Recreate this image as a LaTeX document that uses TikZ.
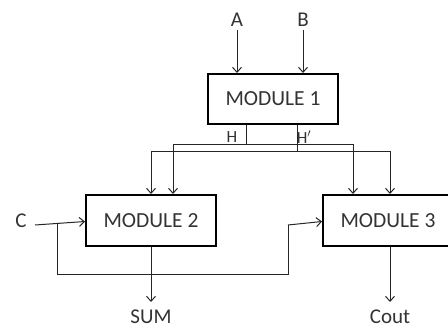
\documentclass[tikz,border=0pt]{standalone}
\usepackage{fontspec}
\setmainfont{Carlito}
\usetikzlibrary{arrows.meta}
\begin{document}
\begin{tikzpicture}[x=1pt,y=-1pt,
  modbox/.style={draw,line width=2pt,minimum width=130pt,minimum height=50pt,inner sep=0pt,font=\fontsize{21.5}{24}\selectfont,text=black!80},
  lbl/.style={font=\fontsize{21}{24}\selectfont,inner sep=0pt,text=black!80},
  smalllbl/.style={font=\fontsize{17}{20}\selectfont,inner sep=0pt,text=black!80},
  wire/.style={line width=1pt,draw=black!85},
  arr/.style={wire,-{Straight Barb[length=5pt,width=9pt,line width=1pt]}}]
\useasboundingbox (0,0) rectangle (448,329);
\clip (0,0) rectangle (448,329);
% modules
\node[modbox] (m1) at (273,99) {MODULE 1};
\node[modbox,minimum height=51pt] (m2) at (151,220.5) {MODULE 2};
\node[modbox,minimum height=51pt] (m3) at (388,220.5) {MODULE 3};
% labels
\node[lbl] (A) at (237,20) {A};
\node[lbl] (B) at (303,20) {B};
\node[lbl] (C) at (21,221) {C};
\node[lbl] (sum) at (151,317) {SUM};
\node[lbl] (cout) at (390,317) {Cout};
\node[smalllbl] (hl) at (232,137) {H};
\node[smalllbl] (hpl) at (304,137) {H$'$};
% inputs A, B
\draw[arr] (237,30) -- (237,0 |- m1.north);
\draw[arr] (303,30) -- (303,0 |- m1.north);
% H and H' taps
\coordinate (h1) at (246,145);
\coordinate (h2) at (297,152);
\draw[wire] (246,0 |- m1.south) -- (h1);
\draw[wire] (297,0 |- m1.south) -- (h2);
\draw[arr] (h1) -| (173,0 |- m2.north);
\draw[arr] (h1) -| (353,0 |- m3.north);
\draw[arr] (h2) -| (151,0 |- m2.north);
\draw[arr] (h2) -| (390,0 |- m3.north);
% C input and feedback
\coordinate (c0) at (35,225);
\coordinate (fb0) at (57,224.3);
\coordinate (fb1) at (288,225);
\draw[arr] (c0) -- (m2.west |- 0,221.5);
\draw[wire] (fb0) -- (57,274) -- (288,274) -- (fb1);
\draw[arr] (fb1) -- (m3.west |- 0,221.5);
% outputs
\draw[arr] (151,0 |- m2.south) -- (151,302);
\draw[arr] (390,0 |- m3.south) -- (390,302);
\end{tikzpicture}
\end{document}
